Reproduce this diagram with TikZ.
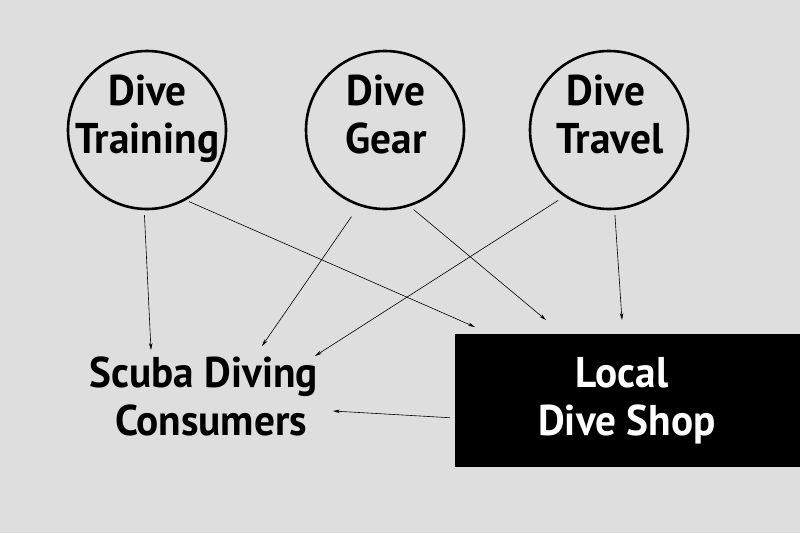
\documentclass[tikz,border=0pt]{standalone}
\usepackage{fontspec}
\setmainfont{PT Sans}[FakeStretch=0.96]
\usetikzlibrary{arrows.meta}
\definecolor{bg}{RGB}{222,222,222}
\begin{document}
\begin{tikzpicture}[x=1pt,y=-1pt,
  circ/.style={circle,draw=black,line width=2.6pt,minimum size=158pt,inner sep=0pt},
  lbl/.style={font=\fontsize{43}{48}\selectfont\bfseries,anchor=base,inner sep=0pt},
  arr/.style={line width=0.6pt,-{Stealth[length=7pt,width=3.5pt]}}]
\useasboundingbox[fill=bg] (0,0) rectangle (800,533);
\node[circ] (train) at (147,130) {};
\node[circ] (gear) at (385,130) {};
\node[circ] (travel) at (609,130) {};
\node[lbl] (train1) at (147.5,105) {Dive};
\node[lbl] (train2) at (147.5,153) {Training};
\node[lbl] (gear1) at (386,105) {Dive};
\node[lbl] (gear2) at (386,153) {Gear};
\node[lbl] (travel1) at (606,105) {Dive};
\node[lbl] (travel2) at (610,153) {Travel};
\node[fill=black,minimum width=345pt,minimum height=133pt,inner sep=0pt] (shop) at (627.5,400) {};
\node[lbl,text=white] (shop1) at (622,387) {Local};
\node[lbl,text=white] (shop2) at (627,435) {Dive Shop};
\node[lbl] (cons1) at (204,387) {Scuba Diving};
\node[lbl] (cons2) at (211,435) {Consumers};
\coordinate (e1) at (151,350);
\coordinate (e2) at (475,327);
\coordinate (e3) at (262,346);
\coordinate (e4) at (546,320);
\coordinate (e5) at (315,356);
\coordinate (e6) at (622,320);
\coordinate (e7) at (333,411);
\draw[arr,shorten <=5pt] (train.-92.6) -- (e1);
\draw[arr,shorten <=3.5pt] (train.-61.3) -- (e2);
\draw[arr,shorten <=13pt] (gear.-109.6) -- (e3);
\draw[arr,shorten <=5pt] (gear.-72) -- (e4);
\draw[arr,shorten <=7pt] (travel.-124) -- (e5);
\draw[arr,shorten <=5pt] (travel.-86) -- (e6);
\draw[arr,shorten <=5pt] (shop.west |- 0,418) -- (e7);
\end{tikzpicture}
\end{document}
